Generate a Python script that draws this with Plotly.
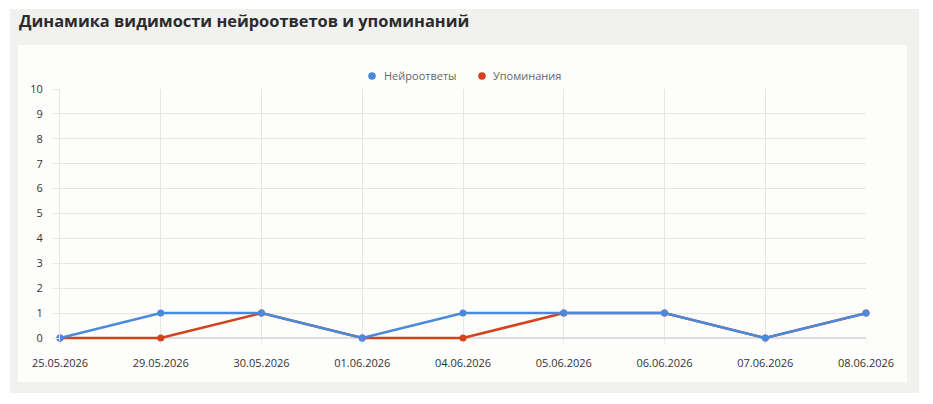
import plotly.graph_objects as go

dates = ["25.05.2026", "29.05.2026", "30.05.2026", "01.06.2026", "04.06.2026",
         "05.06.2026", "06.06.2026", "07.06.2026", "08.06.2026"]
answers = [0, 1, 1, 0, 1, 1, 1, 0, 1]
mentions = [0, 0, 1, 0, 0, 1, 1, 0, 1]
series_names = ["Нейроответы", "Упоминания"]

BLUE = "#4a89dc"
RED = "#d2421c"
W, H = 933, 404
L, R, T, B = 60, 866, 89, 341
ZERO = 338
UNIT = (ZERO - T) / 10.0
YMIN = -(B - ZERO) / UNIT

def px_x(p):
    return (p - L) / (R - L)

def px_y(p):
    return (B - p) / (B - T)

fig = go.Figure()
fig.add_trace(go.Scatter(x=dates, y=mentions, name=series_names[1], mode="lines+markers",
                         line=dict(color=RED, width=2.5), marker=dict(size=7, color=RED),
                         cliponaxis=False, showlegend=False))
fig.add_trace(go.Scatter(x=dates, y=answers, name=series_names[0], mode="lines+markers",
                         line=dict(color=BLUE, width=2.5), marker=dict(size=7, color=BLUE),
                         cliponaxis=False, showlegend=False))

shapes = [
    dict(type="rect", xref="paper", yref="paper", x0=px_x(10), x1=px_x(919), y0=px_y(393), y1=px_y(9),
         fillcolor="#f1f1f0", line=dict(width=0), layer="below"),
    dict(type="rect", xref="paper", yref="paper", x0=px_x(18), x1=px_x(907), y0=px_y(382), y1=px_y(45),
         fillcolor="#fdfdfc", line=dict(width=0), layer="below"),
]

# custom legend (circle symbol + label)
legend_items = [(372, 382, series_names[0], BLUE), (482, 491, series_names[1], RED)]
annotations = [dict(text="<b>Динамика видимости нейроответов и упоминаний</b>",
                    xref="paper", yref="paper", x=px_x(17), y=px_y(20),
                    xanchor="left", yanchor="middle", showarrow=False,
                    font=dict(size=16.4, color="#2b2b2b"))]
LEG_Y = 76
for cx, tx, name, col in legend_items:
    r = 3.8
    shapes.append(dict(type="circle", xref="paper", yref="paper",
                       x0=px_x(cx - r), x1=px_x(cx + r), y0=px_y(LEG_Y + r), y1=px_y(LEG_Y - r),
                       fillcolor=col, line=dict(width=0)))
    annotations.append(dict(text=name, xref="paper", yref="paper", x=px_x(tx), y=px_y(LEG_Y),
                            xanchor="left", yanchor="middle", showarrow=False,
                            font=dict(size=11, color="#666666")))

fig.update_layout(
    width=W, height=H,
    margin=dict(l=L, r=W - R, t=T, b=H - B),
    paper_bgcolor="white", plot_bgcolor="rgba(0,0,0,0)",
    font=dict(family="Open Sans", size=11, color="#333333"),
    shapes=shapes,
    annotations=annotations,
    showlegend=False,
    xaxis=dict(type="category", range=[0, len(dates) - 1], showgrid=True, gridcolor="#e6e6e6",
               gridwidth=1, ticks="outside", ticklen=2, tickcolor="#e6e6e6",
               showline=False, zeroline=False, tickfont=dict(size=11, color="#333333"),
               ticklabelstandoff=10),
    yaxis=dict(range=[YMIN, 10], tickvals=list(range(0, 11)), showgrid=True, gridcolor="#e6e6e6",
               gridwidth=1, ticks="outside", ticklen=6, tickcolor="#e6e6e6", showline=True,
               linecolor="#e6e6e6", zeroline=True, zerolinecolor="#dddddd",
               tickfont=dict(size=11, color="#333333"), ticklabelstandoff=8),
)

fig.write_html("out.html")
